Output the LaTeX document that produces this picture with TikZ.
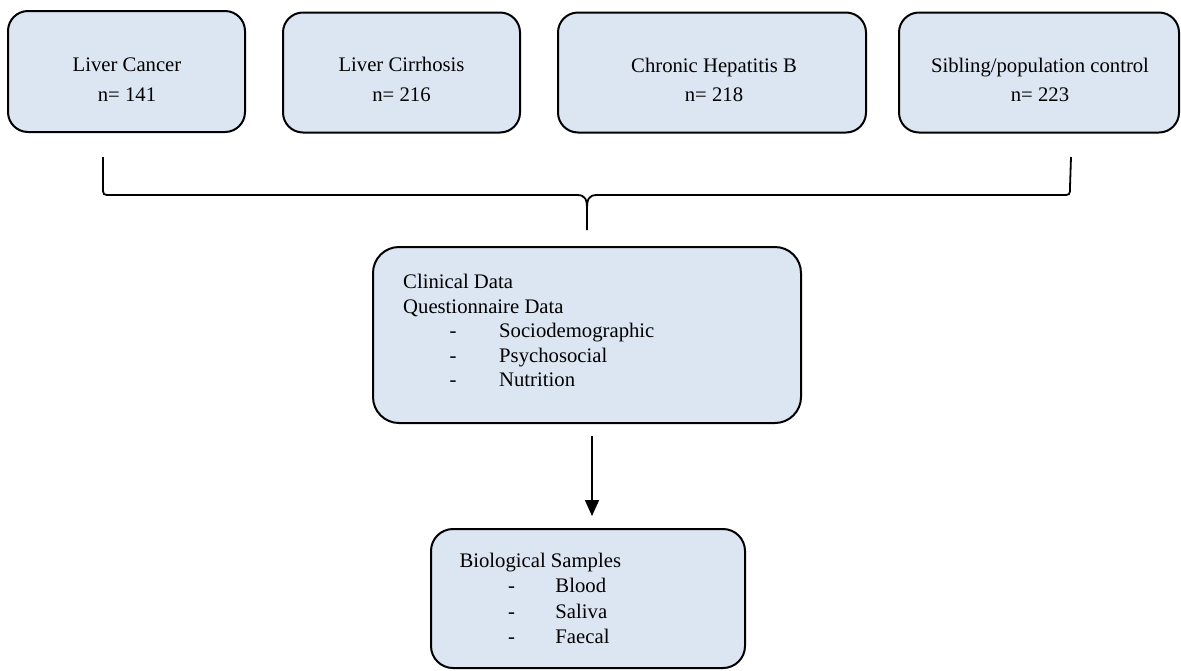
\documentclass[tikz,border=0pt]{standalone}
\usepackage{fontspec}
\setmainfont{Liberation Serif}
\usetikzlibrary{arrows.meta}
\definecolor{boxfill}{RGB}{220,230,242}
\newcommand{\topstrut}{\rule{0pt}{15pt}}
\tikzset{
  box/.style={draw=black, line width=2pt, fill=boxfill, rounded corners=20pt, inner sep=0pt},
  toptext/.style={align=center, inner sep=0pt, font=\fontsize{20.7}{29.5}\selectfont},
  listtext/.style={align=left, inner sep=0pt},
  brace/.style={draw=black, line width=1.8pt},
  flow/.style={draw=black, line width=1.6pt, -{Triangle[width=14pt,length=16pt]}}
}
\begin{document}
\begin{tikzpicture}[x=1pt, y=-1pt]
\useasboundingbox (0,0) rectangle (1181,670);
% top boxes
\node[box, minimum width=237pt, minimum height=121pt] (lc) at (126.5,71.5) {};
\node[box, minimum width=237pt, minimum height=120pt] (ci) at (401.5,72.5) {};
\node[box, minimum width=308pt, minimum height=120pt] (hb) at (712,72.5) {};
\node[box, minimum width=280pt, minimum height=120pt] (sc) at (1039,72.5) {};
\node[toptext, anchor=north] (lct) at (127,56.3) {\topstrut Liver Cancer\\n= 141};
\node[toptext, anchor=north] (cit) at (401.5,56.3) {\topstrut Liver Cirrhosis\\n= 216};
\node[toptext, anchor=north] (hbt) at (714,56.8) {\topstrut Chronic Hepatitis B\\n= 218};
\node[toptext, anchor=north] (sct) at (1040,56.8) {\topstrut Sibling/population control\\n= 223};
% brace
\coordinate (bl) at (103,157);
\coordinate (br) at (1071,157);
\coordinate (bt) at (587,230);
\draw[brace] (bl) -- (103,187) .. controls (103,195) .. (111,195) -- (577,195)
  .. controls (586,195) and (587,200) .. (587,210) -- (bt);
\draw[brace] (br) -- (1070,187) .. controls (1070,195) .. (1062,195) -- (597,195)
  .. controls (588,195) and (587,200) .. (587,210);
% middle box
\node[box, rounded corners=26pt, minimum width=428pt, minimum height=176pt] (mid) at (587,335) {};
\node[listtext, anchor=north west, font=\fontsize{20.7}{24.6}\selectfont] (midt) at (403,273.3)
  {\topstrut Clinical Data\\
   Questionnaire Data\\
   \makebox[96pt][l]{\hspace*{46.5pt}-}Sociodemographic\\
   \makebox[96pt][l]{\hspace*{46.5pt}-}Psychosocial\\
   \makebox[96pt][l]{\hspace*{46.5pt}-}Nutrition};
% bottom box
\node[box, rounded corners=22pt, minimum width=314pt, minimum height=139pt] (bio) at (588,598.5) {};
\node[listtext, anchor=north west, font=\fontsize{20.7}{25.3}\selectfont] (biot) at (459.3,552.3)
  {\topstrut Biological Samples\\
   \makebox[96pt][l]{\hspace*{48.5pt}-}Blood\\
   \makebox[96pt][l]{\hspace*{48.5pt}-}Saliva\\
   \makebox[96pt][l]{\hspace*{48.5pt}-}Faecal};
% arrow
\draw[flow, shorten <=12pt, shorten >=12pt] ([xshift=5pt]mid.south) -- ([xshift=4pt]bio.north);
\end{tikzpicture}
\end{document}
